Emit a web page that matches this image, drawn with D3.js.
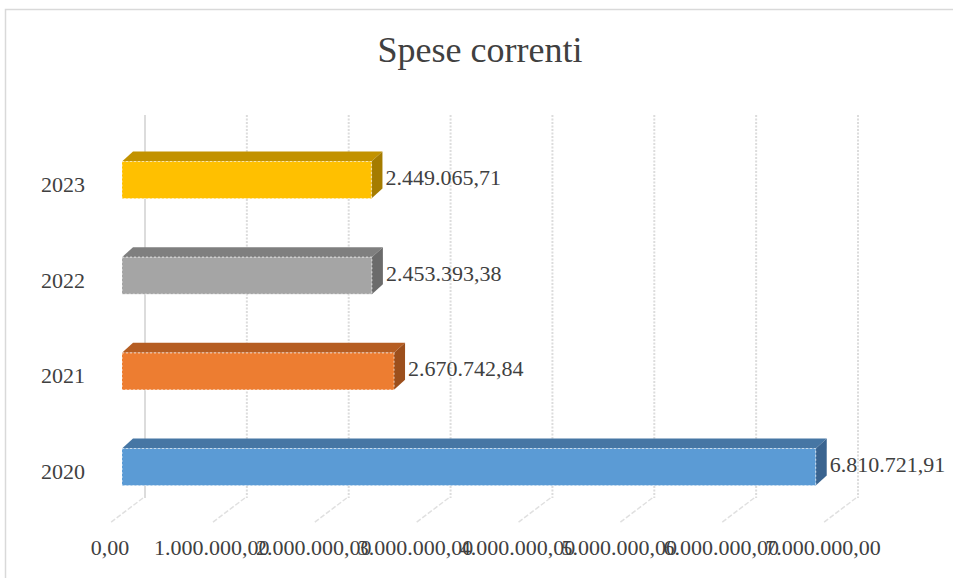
<!DOCTYPE html>
<html>
<head>
<meta charset="utf-8">
<script src="https://cdn.jsdelivr.net/npm/d3@7"></script>
<style>
  body { margin: 0; background: #fff; }
  text { font-family: "Liberation Serif", "DejaVu Serif", serif; fill: #404040; }
</style>
</head>
<body>
<div id="chart"></div>
<script>
var years = ["2023", "2022", "2021", "2020"];
var values = [2449065.71, 2453393.38, 2670742.84, 6810721.91];
var ticks = [0, 1000000, 2000000, 3000000, 4000000, 5000000, 6000000, 7000000];
var fronts = ["#FFC000", "#A5A5A5", "#ED7D31", "#5B9BD5"];
var tops = ["#C29200", "#7F7F7F", "#B55D22", "#4676A4"];
var sides = ["#A57C00", "#6B6B6B", "#9C4F1C", "#3A6490"];

var width = 953,
    height = 578;

// italian number format 1.234.567,89
var fmt = d3.formatLocale({decimal: ",", thousands: ".", grouping: [3], currency: ["", "€"]}).format(",.2f");

var svg = d3.select("#chart")
            .append("svg")
            .attr("width", width)
            .attr("height", height);

// chart frame
svg.append("rect")
   .attr("x", 5.5).attr("y", 9.5)
   .attr("width", 1000).attr("height", 700)
   .style("fill", "none")
   .style("stroke", "#D9D9D9")
   .style("stroke-width", 1.5);

svg.append("text")
   .attr("x", 480).attr("y", 62)
   .attr("text-anchor", "middle")
   .style("font-size", "36px")
   .text("Spese correnti");

var x = d3.scaleLinear().domain([0, 7000000]).range([0, 713]);
var y = d3.scalePoint().domain(years).range([180, 467]);

var backX = 145, frontX = 110, barX = 122;
var wallTop = 115, wallBottom = 498, floorFront = 523;
var bh = 37, bdx = 11, bdy = -10;

// back wall gridlines + floor
var grid = svg.append("g");
grid.selectAll(".gv")
    .data(ticks)
    .enter().append("line")
    .attr("x1", function(d) { return backX + x(d); })
    .attr("x2", function(d) { return backX + x(d); })
    .attr("y1", wallTop).attr("y2", wallBottom)
    .style("stroke", "#DCDCDC")
    .style("stroke-width", 2)
    .style("stroke-dasharray", function(d, i) { return i == 0 ? null : "2,1.5"; });

grid.selectAll(".gf")
    .data(ticks)
    .enter().append("line")
    .attr("x1", function(d) { return backX + x(d) - 2; })
    .attr("x2", function(d) { return frontX + x(d); })
    .attr("y1", wallBottom).attr("y2", floorFront)
    .style("stroke", "#E0E0E0")
    .style("stroke-width", 1.5)
    .style("stroke-dasharray", "5,2");

// 3d bars
var bars = svg.selectAll(".bar")
              .data(values)
              .enter().append("g")
              .attr("class", "bar");

bars.append("path")
    .attr("d", function(d, i) {
      var t = y(years[i]) - bh / 2, w = x(d);
      return "M" + barX + "," + t + "L" + (barX + w) + "," + t +
             "L" + (barX + w + bdx) + "," + (t + bdy) + "L" + (barX + bdx) + "," + (t + bdy) + "Z";
    })
    .style("fill", function(d, i) { return tops[i]; });

bars.append("path")
    .attr("d", function(d, i) {
      var t = y(years[i]) - bh / 2, w = x(d);
      return "M" + (barX + w) + "," + t + "L" + (barX + w + bdx) + "," + (t + bdy) +
             "L" + (barX + w + bdx) + "," + (t + bh + bdy) + "L" + (barX + w) + "," + (t + bh) + "Z";
    })
    .style("fill", function(d, i) { return sides[i]; });

bars.append("rect")
    .attr("x", barX)
    .attr("y", function(d, i) { return y(years[i]) - bh / 2; })
    .attr("width", function(d) { return x(d); })
    .attr("height", bh)
    .style("fill", function(d, i) { return fronts[i]; })
    .style("stroke", "#fff")
    .style("stroke-opacity", 0.55)
    .style("stroke-width", 1.2)
    .style("stroke-dasharray", "2,2");

bars.append("text")
    .attr("x", function(d) { return barX + x(d) + bdx + 3; })
    .attr("y", function(d, i) { return y(years[i]) + 5; })
    .style("font-size", "22px")
    .text(function(d) { return fmt(d); });

// category labels
svg.selectAll(".cat")
   .data(years)
   .enter().append("text")
   .attr("x", 85)
   .attr("y", function(d) { return y(d) + 12; })
   .attr("text-anchor", "end")
   .style("font-size", "22px")
   .text(function(d) { return d; });

// value axis labels (they overlap in the original too)
svg.selectAll(".tick")
   .data(ticks)
   .enter().append("text")
   .attr("x", function(d) { return frontX + x(d); })
   .attr("y", 555)
   .attr("text-anchor", "middle")
   .style("font-size", "22px")
   .text(function(d) { return fmt(d); });
</script>
</body>
</html>
